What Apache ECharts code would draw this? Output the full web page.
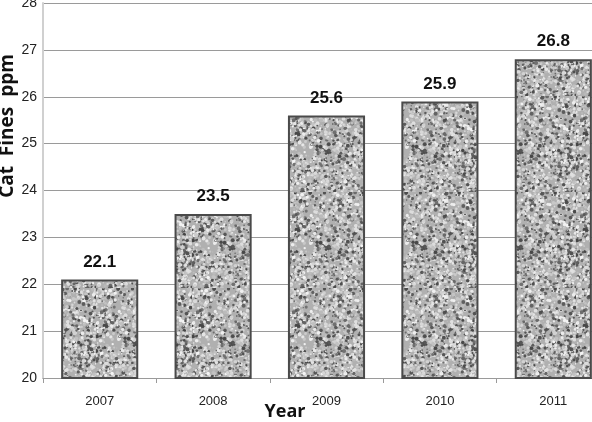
<!DOCTYPE html>
<html><head><meta charset="utf-8">
<script src="https://cdn.jsdelivr.net/npm/echarts@6/dist/echarts.min.js"></script>
<style>html,body{margin:0;padding:0;background:#fff}#c{width:592px;height:422px}</style>
</head><body><div id="c"></div>
<script>
const years = ['2007','2008','2009','2010','2011'];
const catFines = [22.1, 23.5, 25.6, 25.9, 26.8];
const yTicks = {min: 20, max: 28, interval: 1};

// deterministic granite-like texture (style only)
function makeTexture(){
  const s = 96, c = document.createElement('canvas');
  c.width = s; c.height = s;
  const g = c.getContext('2d');
  g.fillStyle = '#b0b0b0'; g.fillRect(0,0,s,s);
  function h(i){ let x = Math.sin(i*12.9898+78.233)*43758.5453; return x - Math.floor(x); }
  for (let i = 0; i < 1500; i++){
    const x = h(i)*s, y = h(i+1000)*s, r = 0.6 + h(i+2000)*1.4;
    const t = h(i+3000);
    const v = Math.floor(t < 0.3 ? 70 + t*150 : 160 + t*85);
    g.fillStyle = 'rgb('+v+','+v+','+v+')';
    g.beginPath(); g.arc(x,y,r,0,Math.PI*2); g.fill();
  }
  return c;
}
const tex = makeTexture();
const font = "'Liberation Sans Narrow','Liberation Sans',sans-serif";

const chart = echarts.init(document.getElementById('c'), null, {renderer:'canvas'});
chart.setOption({
  animation: false,
  grid: {left: 43, right: -18, top: 3, bottom: 44, outerBoundsMode: 'none', containLabel: false},
  xAxis: {
    type: 'category', data: years,
    axisLine: {show: true, lineStyle: {color: '#9a9a9a', width: 1}},
    axisTick: {show: true, length: 5, lineStyle: {color: '#9a9a9a'}},
    axisLabel: {color: '#222', fontFamily: font, fontSize: 13, margin: 17}
  },
  yAxis: {
    type: 'value', min: yTicks.min, max: yTicks.max, interval: yTicks.interval,
    axisLine: {show: true, lineStyle: {color: '#d0d0d0', width: 2}},
    axisTick: {show: false},
    axisLabel: {color: '#222', fontFamily: font, fontSize: 14, margin: 6},
    splitLine: {lineStyle: {color: '#9a9a9a', width: 1}}
  },
  graphic: [
    {type: 'text', x: 8, y: 126, rotation: Math.PI/2,
     style: {text: 'Cat  Fines  ppm', font: "bold 19px 'Open Sans',sans-serif", fill: '#111', textAlign: 'center', textVerticalAlign: 'middle'}},
    {type: 'text', x: 285, y: 412,
     style: {text: 'Year', font: "bold 18px 'Open Sans',sans-serif", fill: '#111', textAlign: 'center', textVerticalAlign: 'middle'}}
  ],
  series: [{
    type: 'bar', data: catFines, barWidth: '68%',
    itemStyle: {color: {image: tex, repeat: 'repeat'}, borderColor: '#4a4a4a', borderWidth: 2},
    label: {show: true, position: 'top', distance: 9, color: '#111', fontFamily: font, fontWeight: 'bold', fontSize: 17,
            formatter: p => p.value.toFixed(1)}
  }]
});
</script></body></html>
